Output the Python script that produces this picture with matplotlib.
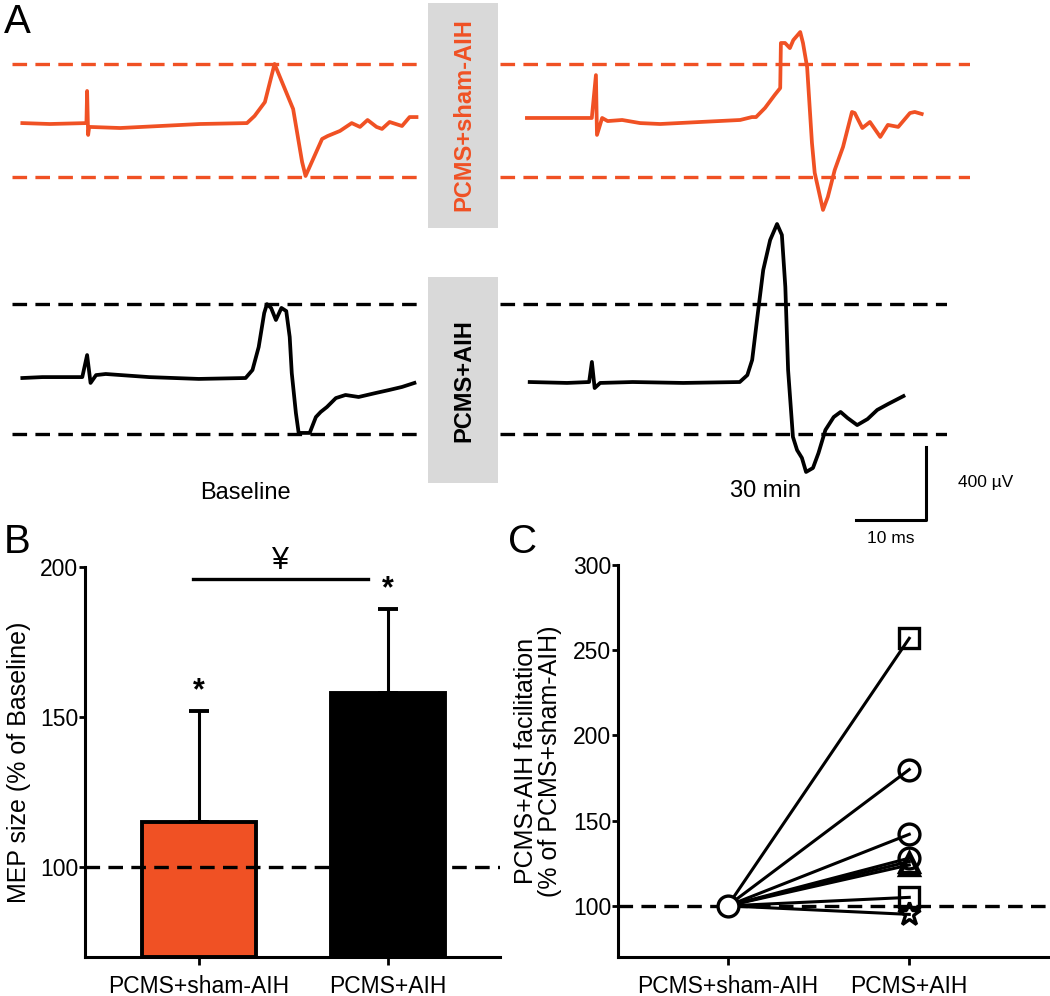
import matplotlib
matplotlib.use("Agg")
import matplotlib.pyplot as plt
from matplotlib.patches import Rectangle

plt.rcParams['font.family'] = ['Liberation Sans', 'DejaVu Sans']
plt.rcParams['lines.scale_dashes'] = False

ORANGE = '#f05124'
GREY = '#d9d9d9'

# ---- panel A: MEP traces (time in ms after stimulus, amplitude in uV) ----
sham_base_t = [-9.4, -5.4, -0.1, 0.0, 0.15, 0.3, 4.8, 10.6, 16.4, 23.2, 24.3, 25.8, 27.2,
               29.9, 31.2, 31.7, 32.8, 34.1, 34.9, 36.7, 38.4, 39.6, 40.7, 42.0, 42.8,
               43.9, 45.7, 46.8, 47.8]
sham_base_v = [5, 0, 5, 181, -60, -16, -22, -11, 0, 5, 44, 120, 329,
               82, -208, -285, -192, -82, -66, -38, 5, -16, 22, -16, -27,
               11, -11, 38, 38]

sham_30_t = [-10.0, -0.6, 0.0, 0.15, 0.9, 1.7, 3.8, 6.4, 9.3, 15.1, 20.9, 22.6, 23.2,
             24.5, 25.9, 26.7, 26.8, 27.4, 28.1, 28.6, 29.6, 30.0, 30.6, 31.3, 31.7,
             32.9, 33.6, 34.6, 35.8, 37.1, 37.5, 38.6, 39.7, 41.2, 42.3, 43.8, 45.5,
             46.2, 47.2]
sham_30_v = [33, 33, 268, -60, 33, 16, 22, 5, 0, 11, 22, 38, 38,
             88, 159, 197, 444, 444, 416, 460, 504, 444, 312, -104, -268,
             -471, -400, -252, -126, 66, 60, -22, 11, -71, -5, -16, 60,
             66, 55]

aih_base_t = [-9.4, -6.5, -0.7, 0.0, 0.5, 1.3, 2.7, 9.0, 16.2, 23.0, 24.0, 24.9, 25.7,
              26.1, 26.7, 27.4, 28.2, 28.9, 29.4, 29.7, 30.3, 30.7, 31.4, 32.3, 33.2,
              33.9, 34.8, 36.1, 37.5, 39.4, 41.9, 43.8, 45.7, 47.5]
aih_base_v = [0, 5, 5, 126, -27, 16, 22, 5, -5, 0, 44, 170, 356,
              405, 384, 318, 384, 367, 225, 27, -192, -301, -301, -301, -214,
              -186, -159, -110, -93, -104, -82, -66, -49, -27]

aih_30_t = [-9.0, -3.6, -0.4, 0.0, 0.4, 1.2, 5.9, 13.2, 21.4, 22.5, 23.2, 23.9, 24.8,
            25.8, 26.8, 27.5, 28.0, 28.4, 29.1, 29.7, 30.4, 31.0, 32.0, 32.8, 33.8,
            35.0, 36.0, 37.0, 38.4, 39.9, 41.3, 42.9, 45.1]
aih_30_v = [-22, -27, -22, 88, -55, -27, -22, -27, -22, 16, 99, 318, 592,
            756, 844, 784, 499, 44, -323, -395, -438, -515, -493, -411, -285,
            -214, -186, -219, -258, -225, -175, -142, -99]

sham_ref = [329, -290]   # baseline peak / trough of PCMS+sham-AIH
aih_ref = [405, -307]    # baseline peak / trough of PCMS+AIH

# ---- panel B ----
groups = ['PCMS+sham-AIH', 'PCMS+AIH']
mep_mean = [115, 158]
mep_sd = [37, 28]

# ---- panel C ----
facil_start = 100
facil_end = [257, 180, 142, 128, 126, 124, 105, 95]
facil_marker = ['s', 'o', 'o', 'o', '^', '^', 's', '*']

W, H = 1050, 996
fig = plt.figure(figsize=(W / 100, H / 100), dpi=100)


def rect(x0, y0, x1, y1):
    return [x0 / W, 1 - y1 / H, (x1 - x0) / W, (y1 - y0) / H]


def trace_ax(box, xlim, ylim, t, v, ref, color):
    ax = fig.add_axes(rect(*box))
    ax.set_xlim(xlim)
    ax.set_ylim(ylim)
    ax.axis('off')
    ax.plot(t, v, color=color, lw=2.7, clip_on=False, solid_joinstyle='round')
    for r in ref:
        ax.axhline(r, color=color, lw=2.4, dashes=(10.5, 6))
    return ax


trace_ax((12, 20, 422, 230), (-10.9, 48.6), (-581, 570), sham_base_t, sham_base_v, sham_ref, ORANGE)
trace_ax((500, 20, 970, 230), (-13.9, 54.2), (-581, 570), sham_30_t, sham_30_v, sham_ref, ORANGE)
trace_ax((12, 220, 422, 530), (-10.9, 48.6), (-833, 866), aih_base_t, aih_base_v, aih_ref, 'black')
axr = trace_ax((500, 220, 947, 530), (-13.3, 51.4), (-833, 866), aih_30_t, aih_30_v, aih_ref, 'black')

# scale bar (10 ms, 400 uV)
axr.plot([38.3, 48.3, 48.3], [-778, -778, -378], color='black', lw=2.2, clip_on=False)
axr.text(53.0, -575, '400 µV', fontsize=12.5, va='center', ha='left')
axr.text(43.3, -840, '10 ms', fontsize=12.5, va='top', ha='center')

# grey label boxes
fig.add_artist(Rectangle((428 / W, 1 - 228 / H), 70 / W, 225 / H, transform=fig.transFigure,
                         facecolor=GREY, edgecolor='none'))
fig.add_artist(Rectangle((428 / W, 1 - 483 / H), 70 / W, 206 / H, transform=fig.transFigure,
                         facecolor=GREY, edgecolor='none'))
fig.text(464 / W, 1 - 115 / H, 'PCMS+sham-AIH', rotation=90, color=ORANGE, fontsize=17,
         fontweight='bold', ha='center', va='center')
fig.text(464 / W, 1 - 381 / H, 'PCMS+AIH', rotation=90, color='black', fontsize=17,
         fontweight='bold', ha='center', va='center')

fig.text(245 / W, 1 - 493 / H, 'Baseline', fontsize=17, ha='center', va='center')
fig.text(765 / W, 1 - 491 / H, '30 min', fontsize=17, ha='center', va='center')

for lab, x, y in [('A', 4, 22), ('B', 4, 542), ('C', 508, 542)]:
    fig.text(x / W, 1 - y / H, lab, fontsize=29, ha='left', va='center')


def style(ax):
    for s in ['top', 'right']:
        ax.spines[s].set_visible(False)
    for s in ['left', 'bottom']:
        ax.spines[s].set_linewidth(2.2)
    ax.tick_params(axis='both', width=2, labelsize=16.5)
    ax.tick_params(axis='y', length=4, pad=1)
    ax.tick_params(axis='x', length=6, pad=7)


# ---- panel B ----
axb = fig.add_axes(rect(85, 567, 500, 957))
x = [0, 1]
axb.bar(x, [m - 70 for m in mep_mean], bottom=70, width=0.6, color=[ORANGE, 'black'],
        edgecolor='black', linewidth=2.8, zorder=2)
axb.errorbar(x, mep_mean, yerr=[[0, 0], mep_sd], fmt='none', ecolor='black',
             elinewidth=2.2, capsize=7, capthick=2.8, zorder=1)
axb.axhline(100, color='black', lw=2.4, dashes=(10.5, 6), zorder=3)
for xi, m, s in zip(x, mep_mean, mep_sd):
    axb.text(xi, m + s + 1.5, '*', fontsize=22, fontweight='bold', ha='center', va='bottom')
axb.plot([-0.03, 0.895], [196, 196], color='black', lw=2.4, clip_on=False)
axb.text(0.43, 197, '¥', fontsize=22, ha='center', va='bottom')
axb.set_xlim(-0.603, 1.593)
axb.set_ylim(70, 200)
axb.set_yticks([100, 150, 200])
axb.set_xticks(x)
axb.set_xticklabels(groups)
axb.set_ylabel('MEP size (% of Baseline)', fontsize=18, labelpad=6)
style(axb)

# ---- panel C ----
axc = fig.add_axes(rect(618, 565, 1050, 957))
axc.axhline(100, color='black', lw=2.4, dashes=(10.5, 6), zorder=1)
for v, mk in zip(facil_end, facil_marker):
    axc.plot([0, 1], [facil_start, v], color='black', lw=2.2, zorder=2)
    ms = 17 if mk == '*' else 15
    axc.plot([1], [v], marker=mk, ms=ms, mfc='none', mec='black', mew=2.4, zorder=3)
axc.plot([0], [facil_start], marker='o', ms=15, mfc='white', mec='black', mew=2.4, zorder=3)
axc.set_xlim(-0.604, 1.775)
axc.set_ylim(70, 300)
axc.set_yticks([100, 150, 200, 250, 300])
axc.set_xticks(x)
axc.set_xticklabels(groups)
axc.set_ylabel('PCMS+AIH facilitation\n(% of PCMS+sham-AIH)', fontsize=18, labelpad=8,
               linespacing=1.0)
style(axc)

fig.savefig('out.png', dpi=100)
